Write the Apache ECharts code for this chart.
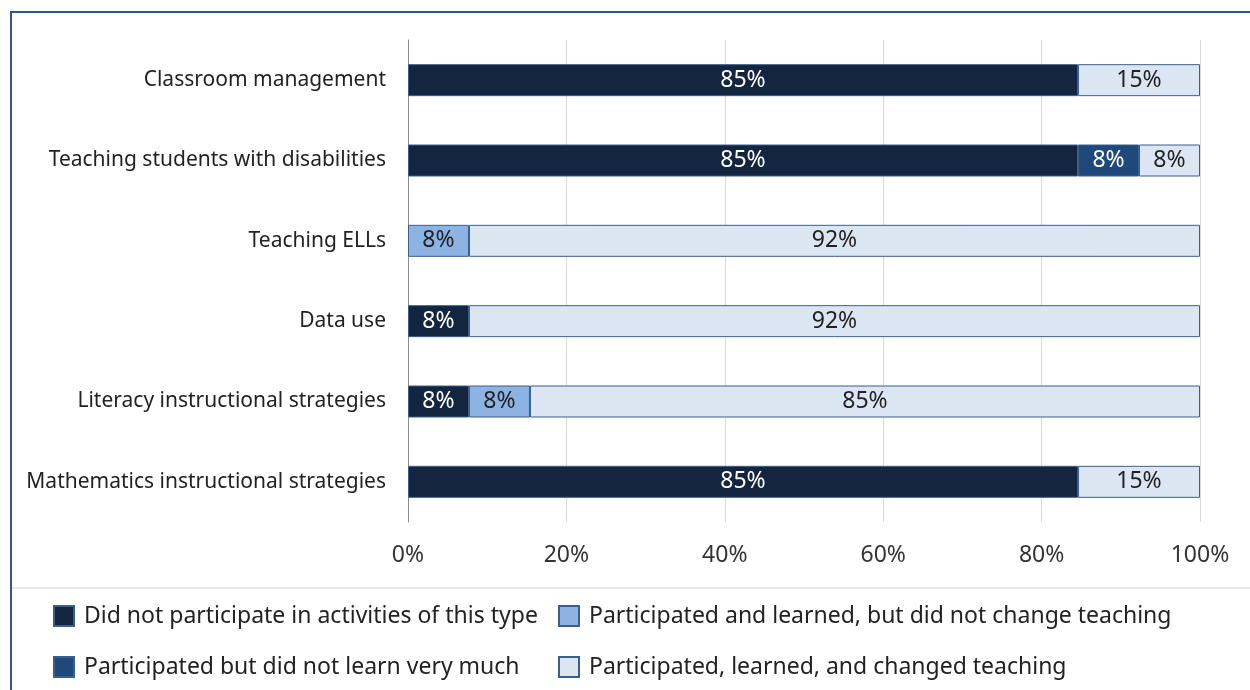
<!DOCTYPE html>
<html>
<head>
<meta charset="utf-8">
<script src="https://cdn.jsdelivr.net/npm/echarts@6/dist/echarts.min.js"></script>
<style>
	html, body { margin: 0; padding: 0; background: #fff; }
	#chart_1 { width: 1250px; height: 690px; }
</style>
</head>
<body>
<div id="chart_1"></div>
<script>
var categories = [
	'Classroom management',
	'Teaching students with disabilities',
	'Teaching ELLs',
	'Data use',
	'Literacy instructional strategies',
	'Mathematics instructional strategies'
];
var seriesNames = [
	'Did not participate in activities of this type',
	'Participated but did not learn very much',
	'Participated and learned, but did not change teaching',
	'Participated, learned, and changed teaching'
];
// percent of teachers, top row first
var notParticipated = [84.6, 84.6, 0, 7.7, 7.7, 84.6];
var didNotLearn = [0, 7.7, 0, 0, 0, 0];
var learnedNoChange = [0, 0, 7.7, 0, 7.7, 0];
var learnedChanged = [15.4, 7.7, 92.3, 92.3, 84.6, 15.4];
var xTicks = [0, 20, 40, 60, 80, 100];

var colors = ['#13253f', '#1f487b', '#8db3e2', '#dce6f2'];
var labelColors = ['#fff', '#fff', '#222', '#222'];
var font = 'Noto Sans';

var myChart = echarts.init(document.getElementById('chart_1'));

var serieData = [];
var metaData = [notParticipated, didNotLearn, learnedNoChange, learnedChanged];
for (var v = 0; v < metaData.length; v++) {
	serieData.push({
		type: 'bar',
		name: seriesNames[v],
		stack: 'total',
		barWidth: 32,
		data: metaData[v].map(function(d) { return d === 0 ? '-' : d; }),
		itemStyle: {
			color: colors[v],
			borderColor: '#3a5f8c',
			borderWidth: 1
		},
		label: {
			show: true,
			position: 'inside',
			color: labelColors[v],
			fontFamily: font,
			fontSize: 23,
			formatter: function(p) {
				return Math.round(p.value) + '%';
			}
		}
	});
}

var legendText = {
	fontFamily: font,
	fontSize: 23,
	lineHeight: 24,
	color: '#222',
	padding: [0, 0, 0, 5]
};

var option = {
	animation: false,
	backgroundColor: '#fff',
	color: colors,
	grid: {
		left: 408,
		right: 50,
		top: 40,
		bottom: 168
	},
	legend: [{
		orient: 'vertical',
		left: 53,
		top: 604,
		padding: 0,
		icon: 'rect',
		itemWidth: 20,
		itemHeight: 20,
		itemGap: 27,
		data: [seriesNames[0], seriesNames[1]],
		textStyle: legendText
	}, {
		orient: 'vertical',
		left: 558,
		top: 604,
		padding: 0,
		icon: 'rect',
		itemWidth: 20,
		itemHeight: 20,
		itemGap: 27,
		data: [seriesNames[2], seriesNames[3]],
		textStyle: legendText
	}],
	xAxis: {
		type: 'value',
		min: 0,
		max: 100,
		interval: 20,
		axisLine: { show: false },
		axisTick: { show: false },
		splitLine: { show: true, lineStyle: { color: '#d9d9d9', width: 1 } },
		axisLabel: {
			margin: 22,
			fontFamily: font,
			fontSize: 23,
			color: '#333',
			formatter: function(val) {
				return xTicks.indexOf(val) >= 0 ? val + '%' : '';
			}
		}
	},
	yAxis: {
		type: 'category',
		inverse: true,
		data: categories,
		axisTick: { show: false },
		axisLine: { show: true, lineStyle: { color: '#8c8c8c', width: 1 } },
		axisLabel: {
			margin: 22,
			fontFamily: font,
			fontSize: 21,
			color: '#222'
		}
	},
	graphic: [{
		type: 'polyline',
		shape: { points: [[11, 690], [11, 12], [1250, 12]] },
		style: { stroke: '#2f5592', lineWidth: 2, fill: null }
	}, {
		type: 'line',
		shape: { x1: 12, y1: 588, x2: 1250, y2: 588 },
		style: { stroke: '#d0d0d0', lineWidth: 1 }
	}],
	series: serieData
};

myChart.setOption(option);
window.addEventListener('resize', function() {
	myChart.resize();
});
</script>
</body>
</html>
